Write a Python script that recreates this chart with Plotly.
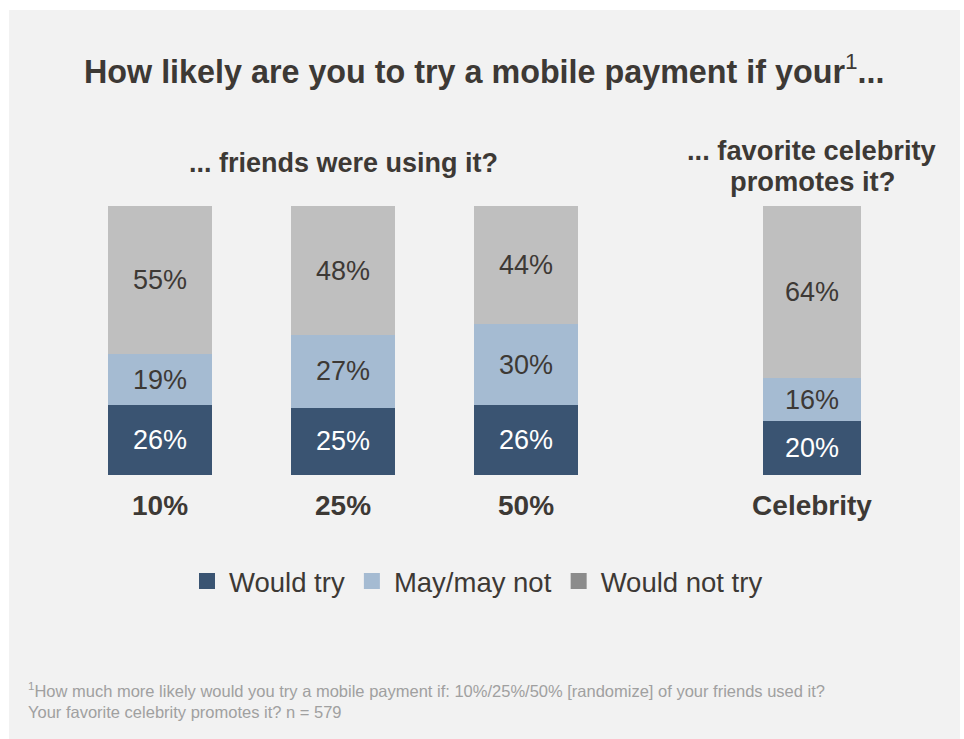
import plotly.graph_objects as go

# ---- data ----
friend_cats = ["10%", "25%", "50%"]
celeb_cats = ["Celebrity"]
series_names = ["Would try", "May/may not", "Would not try"]
would_try_friends = [26, 25, 26]
may_friends = [19, 27, 30]
not_try_friends = [55, 48, 44]
would_try_celeb = [20]
may_celeb = [16]
not_try_celeb = [64]

bar_colors = ["#3a5472", "#a5bbd2", "#bfbfbf"]
legend_colors = ["#3a5472", "#a5bbd2", "#8c8c8c"]
text_colors = ["#ffffff", "#3d3935", "#3d3935"]
DARK = "#3d3935"
W, H = 964, 739

fig = go.Figure()
friend_vals = [would_try_friends, may_friends, not_try_friends]
celeb_vals = [would_try_celeb, may_celeb, not_try_celeb]
for i, name in enumerate(series_names):
    fig.add_trace(go.Bar(
        x=friend_cats, y=friend_vals[i], name=name, showlegend=False,
        marker=dict(color=bar_colors[i], line=dict(width=0)),
        texttemplate="%{y}%", textposition="inside", insidetextanchor="middle",
        textfont=dict(family="Liberation Sans", size=27, color=text_colors[i]),
        xaxis="x", yaxis="y", hoverinfo="skip"))
    fig.add_trace(go.Bar(
        x=celeb_cats, y=celeb_vals[i], name=name, showlegend=False,
        marker=dict(color=bar_colors[i], line=dict(width=0)),
        texttemplate="%{y}%", textposition="inside", insidetextanchor="middle",
        textfont=dict(family="Liberation Sans", size=27, color=text_colors[i]),
        xaxis="x2", yaxis="y2", hoverinfo="skip"))

# legend entries (swatches)
for i, name in enumerate(series_names):
    fig.add_trace(go.Scatter(
        x=[None], y=[None], mode="markers", name=name,
        marker=dict(symbol="square", size=17, color=legend_colors[i]),
        xaxis="x", yaxis="y", showlegend=True))

ydom = [(H - 475) / H, (H - 206) / H]
fig.update_layout(
    width=W, height=H, autosize=False,
    margin=dict(l=0, r=0, t=0, b=0),
    paper_bgcolor="#ffffff", plot_bgcolor="rgba(0,0,0,0)",
    barmode="stack", bargap=0.43,
    font=dict(family="Liberation Sans", color=DARK),
    xaxis=dict(domain=[68.5 / W, 617.5 / W], showgrid=False, zeroline=False,
               showline=False, ticks="", ticklabelstandoff=11,
               tickfont=dict(size=28, weight="bold", color=DARK)),
    xaxis2=dict(domain=[726 / W, 898 / W], anchor="y2", showgrid=False,
                zeroline=False, showline=False, ticks="", ticklabelstandoff=11,
                tickfont=dict(size=28, weight="bold", color=DARK)),
    yaxis=dict(domain=ydom, range=[0, 100], visible=False),
    yaxis2=dict(domain=ydom, range=[0, 100], visible=False, anchor="x2"),
    legend=dict(orientation="h", x=185 / W, y=1 - 581 / H, yanchor="middle",
                xanchor="left", font=dict(size=27.5, color=DARK),
                traceorder="normal", itemwidth=34,
                bgcolor="rgba(0,0,0,0)", itemsizing="trace"),
    shapes=[dict(type="rect", xref="paper", yref="paper", layer="below",
                 x0=9 / W, x1=960 / W, y0=0, y1=1 - 10 / H,
                 fillcolor="#f2f2f2", line=dict(width=0))],
    annotations=[
        dict(text="<b>How likely are you to try a mobile payment if your</b><sup>1</sup><b>...</b>",
             x=484 / W, y=1 - 69 / H, xref="paper", yref="paper",
             xanchor="center", yanchor="middle", showarrow=False,
             font=dict(size=32.3, color=DARK)),
        dict(text="<b>... friends were using it?</b>",
             x=343 / W, y=1 - 163 / H, xref="paper", yref="paper",
             xanchor="center", yanchor="middle", showarrow=False,
             font=dict(size=27, color=DARK)),
        dict(text="<b>... favorite celebrity</b>",
             x=812 / W, y=1 - 150 / H, xref="paper", yref="paper",
             xanchor="center", yanchor="middle", showarrow=False,
             font=dict(size=27.3, color=DARK)),
        dict(text="<b>promotes it?</b>",
             x=812 / W, y=1 - 181 / H, xref="paper", yref="paper",
             xanchor="center", yanchor="middle", showarrow=False,
             font=dict(size=27.3, color=DARK)),
        dict(text="<sup>1</sup>How much more likely would you try a mobile payment if: 10%/25%/50% [randomize] of your friends used it?<br>Your favorite celebrity promotes it? n = 579",
             x=26 / W, y=1 - 700 / H, xref="paper", yref="paper",
             xanchor="left", yanchor="middle", align="left", showarrow=False,
             font=dict(size=16.5, color="#a0a0a0")),
    ],
)

fig.write_html("out.html", config={"displayModeBar": False},
               post_script="document.body.style.margin='0';")
